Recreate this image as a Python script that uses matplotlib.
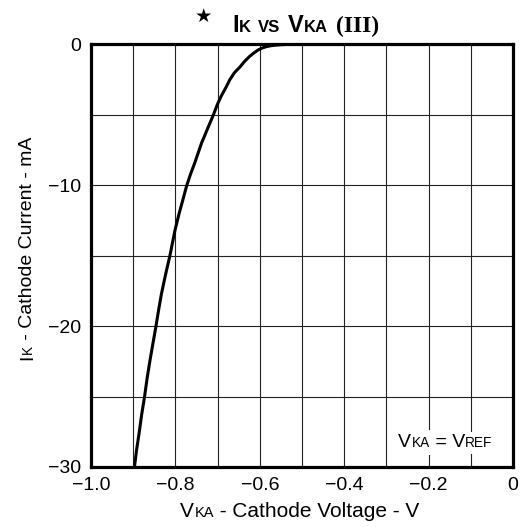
import matplotlib
matplotlib.use('Agg')
import matplotlib.pyplot as plt

# values
vka = [-0.897, -0.892, -0.886, -0.880, -0.873, -0.867, -0.860, -0.853, -0.846,
       -0.840, -0.833, -0.823, -0.813, -0.801, -0.792, -0.782, -0.773, -0.764,
       -0.754, -0.746, -0.738, -0.724, -0.710, -0.701, -0.692, -0.681, -0.671,
       -0.660, -0.647, -0.636, -0.625, -0.614, -0.604, -0.594, -0.584, -0.572,
       -0.560, -0.540, 0.0]
ik = [-30, -28.8, -27.6, -26.3, -25, -23.7, -22.4, -21.2, -20,
      -18.9, -17.7, -16.3, -15, -13.2, -12.1, -11.0, -10.0, -9.2,
      -8.4, -7.7, -7.0, -6.0, -5.0, -4.3, -3.7, -3.1, -2.5,
      -2.0, -1.6, -1.2, -0.87, -0.6, -0.39, -0.25, -0.15, -0.08,
      -0.04, 0, 0]

x_ticks = [-1.0, -0.8, -0.6, -0.4, -0.2, 0]
x_ticklabels = ['\u22121.0', '\u22120.8', '\u22120.6', '\u22120.4', '\u22120.2', '0']
y_ticks = [-30, -20, -10, 0]
y_ticklabels = ['\u221230', '\u221220', '\u221210', '0']

plt.rcParams['font.family'] = ['Liberation Sans', 'DejaVu Sans']

fig = plt.figure(figsize=(5.25, 5.27), dpi=100)
ax = fig.add_axes([0.1733, 0.1139, 0.8038, 0.8017])

ax.plot(vka, ik, color='black', lw=2.2, solid_capstyle='butt', solid_joinstyle='round')

ax.set_xlim(-1.0, 0)
ax.set_ylim(-30, 0)
ax.set_xticks([x / 10 for x in range(-10, 1)], minor=True)
ax.set_yticks(range(-30, 1, 5), minor=True)
ax.set_xticks(x_ticks)
ax.set_xticklabels(x_ticklabels)
ax.set_yticks(y_ticks)
ax.set_yticklabels(y_ticklabels)
ax.tick_params(which='both', length=0, pad=7, labelsize=14)
ax.grid(which='both', color='#222222', lw=0.8)
for s in ax.spines.values():
    s.set_linewidth(2.3)


def chain(pieces, xy, rotation=0, box=False, zorder=5):
    # draw text pieces one after another, small caps as smaller text
    prev = None
    prev_size = None
    for text, size, fam, weight, gap in pieces:
        kw = dict(fontsize=size, family=fam, weight=weight, annotation_clip=False,
                  zorder=zorder)
        if box:
            kw['bbox'] = dict(facecolor='white', edgecolor='none', pad=3)
            kw['color'] = 'white'
        if prev is None:
            if rotation == 0:
                t = ax.annotate(text, xy=xy, xycoords='figure fraction',
                                ha='left', va='bottom', **kw)
            else:
                t = ax.annotate(text, xy=xy, xycoords='figure fraction',
                                ha='right', va='bottom', rotation=90, **kw)
        else:
            dd = 0.21 * (prev_size - size)
            if rotation == 0:
                t = ax.annotate(text, xy=(1, 0), xycoords=prev, xytext=(gap, dd),
                                textcoords='offset points', ha='left', va='bottom', **kw)
            else:
                t = ax.annotate(text, xy=(1, 1), xycoords=prev, xytext=(-dd, gap),
                                textcoords='offset points', ha='right', va='bottom',
                                rotation=90, **kw)
        prev = t
        prev_size = size


sans = ['Liberation Sans', 'DejaVu Sans']
serif = ['Liberation Serif', 'DejaVu Serif']

# title
chain([('I', 17, sans, 'bold', 0),
       ('K', 12, sans, 'bold', 0.5),
       ('VS', 12, sans, 'bold', 4.8),
       ('V', 17, sans, 'bold', 5.5),
       ('KA', 12, sans, 'bold', 0.3),
       ('(III)', 17, serif, 'bold', 5.5)],
      (0.4419, 0.9304))
fig.text(0.3876, 0.9687, '\u2605', fontsize=14, family='DejaVu Sans',
         ha='center', va='center')

# axis labels
chain([('V', 15, sans, 'normal', 0),
       ('KA', 10.5, sans, 'normal', 0.3),
       (' - Cathode Voltage - V', 15, sans, 'normal', 0)],
      (0.3429, 0.0106))
chain([('I', 14, sans, 'normal', 0),
       ('K', 9.8, sans, 'normal', 0.5),
       (' - Cathode Current - mA', 14, sans, 'normal', 0)],
      (0.0686, 0.3169), rotation=90)

# condition note: white box layer, then the text on top
note = [('V', 14, sans, 'normal', 0),
        ('KA', 9.8, sans, 'normal', 0.3),
        (' = V', 14, sans, 'normal', 0),
        ('REF', 9.8, sans, 'normal', 0.3)]
chain(note, (0.7581, 0.1442), box=True, zorder=4)
chain(note, (0.7581, 0.1442), zorder=5)

fig.savefig('out.png', dpi=100)
